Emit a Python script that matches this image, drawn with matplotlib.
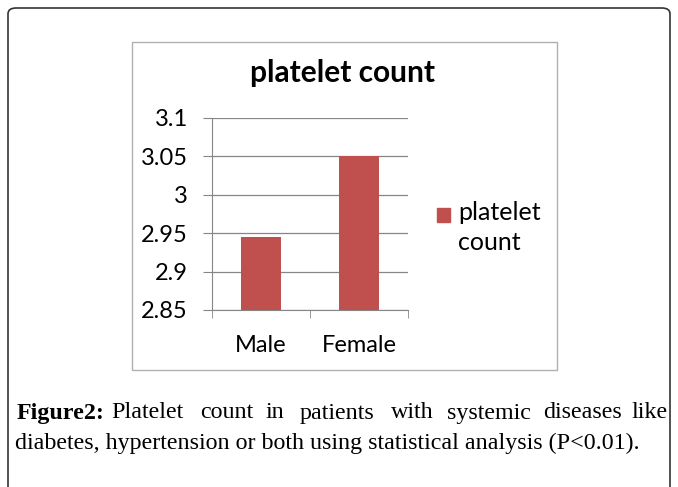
import matplotlib.pyplot as plt
from matplotlib.patches import FancyBboxPatch, Rectangle

# data
categories = ["Male", "Female"]
values = [2.945, 3.05]
series_name = "platelet\ncount"
y_ticks = [2.85, 2.9, 2.95, 3.0, 3.05, 3.1]
y_labels = ["2.85", "2.9", "2.95", "3", "3.05", "3.1"]

W, H = 678, 487
fig = plt.figure(figsize=(W / 100, H / 100), dpi=100)
fig.patch.set_facecolor("white")
BAR = "#c0504d"

# outer page frame (rounded, open at bottom)
frame = FancyBboxPatch((8 / W, -0.05), 662 / W, (H - 8) / H + 0.05,
                       boxstyle="round,pad=0,rounding_size=0.012",
                       transform=fig.transFigure, fill=False,
                       edgecolor="#333333", linewidth=1.2)
fig.add_artist(frame)

# chart area box
fig.add_artist(Rectangle((132 / W, 1 - 370 / H), (557 - 132) / W, (370 - 42) / H,
                         transform=fig.transFigure, fill=False,
                         edgecolor="#b0b0b0", linewidth=1.0))

ax = fig.add_axes([212 / W, 1 - 310 / H, 196 / W, 192 / H])
x = range(len(categories))
ax.bar(x, values, width=0.4, color=BAR, zorder=3)
ax.set_xlim(-0.5, len(categories) - 0.5)
ax.set_ylim(y_ticks[0], y_ticks[-1])
ax.set_yticks(y_ticks)
ax.set_yticklabels(y_labels, fontsize=17, family="Lato")
ax.set_xticks(list(x))
ax.set_xticklabels(categories, fontsize=17, family="Lato")
ax.tick_params(axis="x", length=0, pad=18)
ax.tick_params(axis="y", length=6.5, color="#868686", pad=11)
# category boundary ticks on x axis
ax.set_xticks([-0.5, 0.5, 1.5], minor=True)
ax.tick_params(axis="x", which="minor", length=6, color="#868686")
ax.grid(axis="y", color="#868686", linewidth=0.9, zorder=0)
for s in ["top", "right"]:
    ax.spines[s].set_visible(False)
ax.spines["left"].set_color("#868686")
ax.spines["bottom"].set_color("#868686")

fig.text(343 / W, 1 - 73 / H, "platelet count", ha="center", va="center",
         fontsize=21.5, fontweight="bold", family="Lato")

# legend
fig.add_artist(Rectangle((437 / W, 1 - 222 / H), 13 / W, 14 / H,
                         transform=fig.transFigure, color=BAR))
fig.text(458 / W, 1 - 201 / H, series_name, fontsize=18, family="Lato",
         va="top", ha="left", linespacing=1.35)

# caption (first line justified word by word)
cap_font = ["Liberation Serif", "DejaVu Serif"]
cap_size = 17.3
cap_y = 1 - 413 / H
fig.text(17 / W, cap_y, "Figure2:", fontsize=cap_size, fontweight="bold",
         family=cap_font, va="center")
words = ["Platelet", "count", "in", "patients", "with", "systemic", "diseases"]
centers = [147, 227, 275, 337, 412, 489, 582]
for w, xp in zip(words, centers):
    fig.text(xp / W, cap_y, w, fontsize=cap_size, family=cap_font,
             va="center", ha="center")
fig.text(668 / W, cap_y, "like", fontsize=cap_size, family=cap_font,
         va="center", ha="right")
fig.text(15 / W, 1 - 443 / H,
         "diabetes, hypertension or both using statistical analysis (P<0.01).",
         fontsize=cap_size, family=cap_font, va="center")

fig.savefig("out.png", dpi=100)
